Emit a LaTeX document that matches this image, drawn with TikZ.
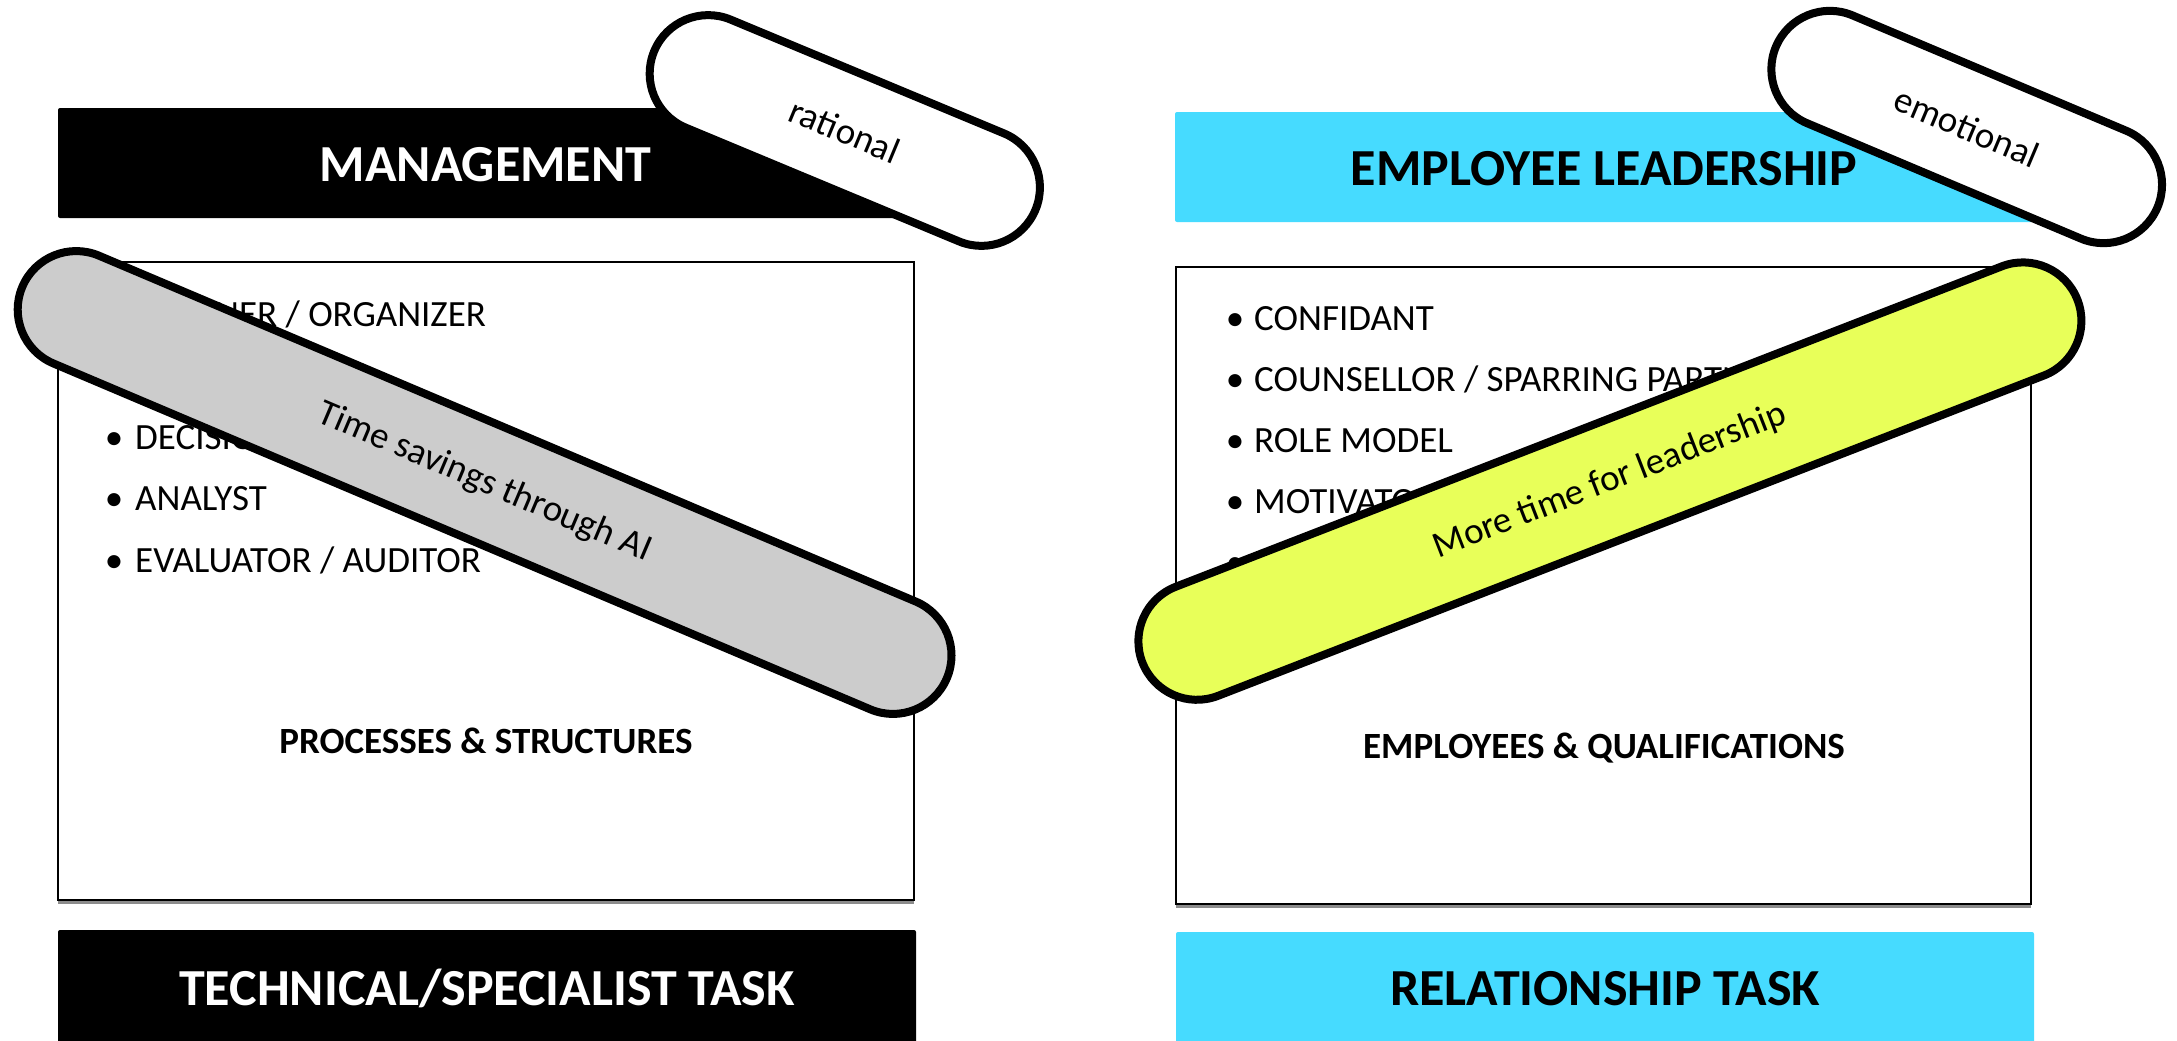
\documentclass[tikz,border=0pt]{standalone}
\usepackage{fontspec}
\setmainfont{Carlito}
\usetikzlibrary{shapes.misc}
\definecolor{cyanbar}{HTML}{46DBFF}
\definecolor{limefill}{HTML}{E8FF59}
\definecolor{pillgray}{HTML}{CCCCCC}
\begin{document}
\begin{tikzpicture}[x=1pt,y=-1pt,
  bar/.style={rounded corners=2pt},
  bartext/.style={font=\fontsize{52}{60}\selectfont\bfseries, inner sep=0pt, anchor=base},
  item/.style={font=\fontsize{37}{44}\selectfont, inner sep=0pt, anchor=base west},
  dot/.style={font=\fontsize{37}{44}\selectfont, inner sep=0pt, anchor=base},
  sub/.style={font=\fontsize{37}{44}\selectfont\bfseries, inner sep=0pt, anchor=base},
  pill/.style={rounded rectangle, draw=black, line width=8pt, minimum height=117pt, inner sep=0pt, font=\fontsize{37}{44}\selectfont},
  frame/.style={draw=black, line width=2pt, fill=white},
  shadowline/.style={draw=black!45, line width=2.5pt}
]
\useasboundingbox[fill=white] (0,0) rectangle (2177,1041);

% bars
\path[bar, fill=black] (58,108) rectangle (913,218);
\path[bar, fill=cyanbar] (1175,112) rectangle (2033,222);
\path[bar, fill=black] (58,930) rectangle (916,1050);
\path[bar, fill=cyanbar] (1176,932) rectangle (2034,1050);

\node[bartext, text=white] (mgmt) at (485.5,181) {MANAGEMENT};
\node[bartext, text=black] (lead) at (1604,185) {EMPLOYEE LEADERSHIP};
\node[bartext, text=white] (tech) at (487,1005) {TECHNICAL/SPECIALIST TASK};
\node[bartext, text=black] (rel) at (1605,1005) {RELATIONSHIP TASK};

% boxes
\path[shadowline] (58,902.5) -- (914,902.5);
\path[shadowline] (1176,906.5) -- (2031,906.5);
\path[frame] (58,262) rectangle (914,900);
\path[frame] (1176,267) rectangle (2031,904);

% left items
\node[dot] (ld1) at (114,326) {•};
\node[item] (li1) at (135,326) {PLANNER / ORGANIZER};
\node[dot] (ld3) at (114,449) {•};
\node[item] (li3) at (135,449) {DECISION-MAKER};
\node[dot] (ld4) at (114,510.5) {•};
\node[item] (li4) at (135,510.5) {ANALYST};
\node[dot] (ld5) at (114,572) {•};
\node[item] (li5) at (135,572) {EVALUATOR / AUDITOR};
\node[sub] (proc) at (486,753) {PROCESSES \& STRUCTURES};

% right items
\node[dot] (rd1) at (1235,330) {•};
\node[item] (ri1) at (1254,330) {CONFIDANT};
\node[dot] (rd2) at (1235,391) {•};
\node[item] (ri2) at (1254,391) {COUNSELLOR / SPARRING PARTNER};
\node[dot] (rd3) at (1235,452) {•};
\node[item] (ri3) at (1254,452) {ROLE MODEL};
\node[dot] (rd4) at (1235,513) {•};
\node[item] (ri4) at (1254,513) {MOTIVATOR};
\node[dot] (rd5) at (1235,574) {•};
\node[sub] (empq) at (1604,758) {EMPLOYEES \& QUALIFICATIONS};

% pills
\node[pill, fill=white, minimum width=413pt, rotate=-22.6] (rational) at (844.8,130.5) {rational};
\node[pill, fill=white, minimum width=414pt, rotate=-22.85] (emotional) at (1966.7,127) {emotional};
\node[pill, fill=pillgray, minimum width=1004pt, rotate=-22.95] (timesave) at (484.6,482.5) {Time savings through AI};
\node[pill, fill=limefill, minimum width=1003pt, rotate=21.2] (moretime) at (1609.9,481.1) {More time for leadership};
\end{tikzpicture}
\end{document}
